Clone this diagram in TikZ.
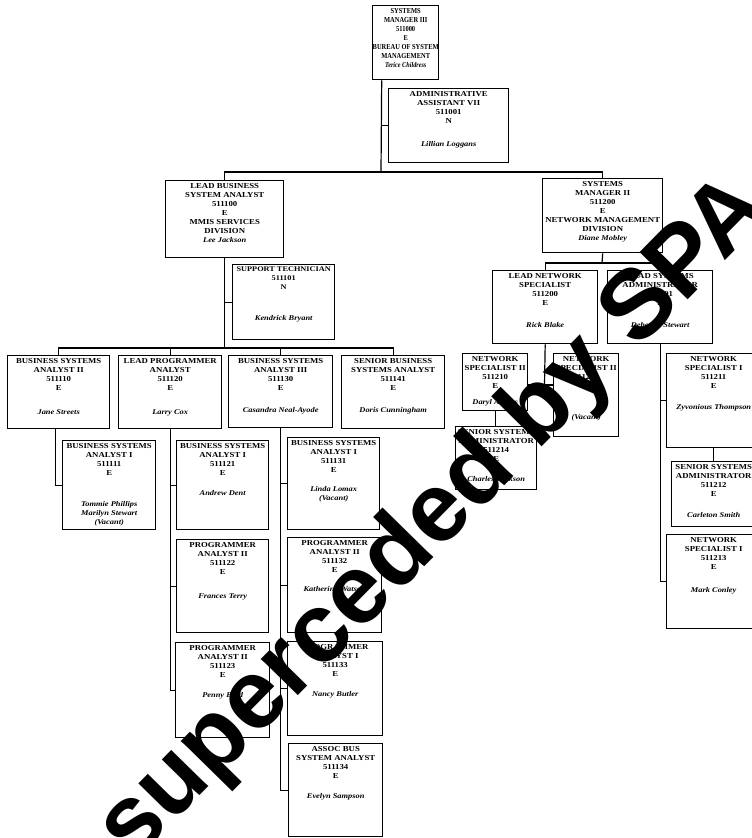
\documentclass[tikz,border=0pt]{standalone}
\usepackage{fontspec}
\setmainfont[FakeStretch=1.15]{Liberation Serif}
\newfontfamily\narrowserif[FakeStretch=0.85]{Liberation Serif}
\newfontfamily\wmsans{Liberation Sans}
\newcommand{\nm}[1]{{\itshape\fontsize{7.3}{9}\selectfont #1}}
\newcommand{\smallline}{\fontsize{7.2}{9}\selectfont}
\tikzset{
  orgnode/.style={draw=black, line width=1.4pt, inner sep=0pt, anchor=north west,
    font=\fontsize{7.6}{9}\selectfont\bfseries},
  conn/.style={draw=black, line width=1.2pt},
  wm/.style={inner sep=0pt, text=black, font=\wmsans\bfseries\fontsize{98}{98}\selectfont}
}
\newcommand{\orgbox}[6]{%
  \pgfmathsetmacro{\obw}{#4-#2}%
  \pgfmathsetmacro{\obh}{#5-#3}%
  \node[orgnode] (#1) at (#2,#3) {\parbox[c][\obh pt][t]{\obw pt}{\centering\vspace*{2.5pt}#6\par}};%
}
\begin{document}
\begin{tikzpicture}[x=1pt,y=-1pt]
\useasboundingbox (0,0) rectangle (752,838);
\fill[white] (0,0) rectangle (752,838);

% ---- boxes ----
\orgbox{top}{372}{5}{438}{79}{\narrowserif SYSTEMS\\ MANAGER III\\ 511000\\ E\\ BUREAU OF SYSTEM\\ MANAGEMENT\\ \nm{Terice Childress}}
\orgbox{admin}{388}{88}{508}{162}{ADMINISTRATIVE\\ ASSISTANT VII\\ 511001\\ N\\[14pt] \nm{Lillian Loggans}}
\orgbox{leadbus}{165}{180}{283}{257}{LEAD BUSINESS\\ SYSTEM ANALYST\\ 511100\\ E\\ MMIS SERVICES\\ DIVISION\\ \nm{Lee Jackson}}
\orgbox{sysmgr}{542}{178}{662}{252}{SYSTEMS\\ MANAGER II\\ 511200\\ E\\ NETWORK MANAGEMENT\\ DIVISION\\ \nm{Diane Mobley}}
\orgbox{support}{232}{264}{334}{339}{\smallline SUPPORT TECHNICIAN\\ 511101\\ N\\[22pt] \nm{Kendrick Bryant}}
\orgbox{bsa2}{7}{355}{109}{428}{BUSINESS SYSTEMS\\ ANALYST II\\ 511110\\ E\\[15pt] \nm{Jane Streets}}
\orgbox{lpa}{118}{355}{221}{428}{LEAD PROGRAMMER\\ ANALYST\\ 511120\\ E\\[15pt] \nm{Larry Cox}}
\orgbox{bsa3}{228}{355}{332}{427}{BUSINESS SYSTEMS\\ ANALYST III\\ 511130\\ E\\[13pt] \nm{Casandra Neal-Ayode}}
\orgbox{senior}{341}{355}{444}{428}{SENIOR BUSINESS\\ SYSTEMS ANALYST\\ 511141\\ E\\[13pt] \nm{Doris Cunningham}}
\orgbox{bsa1a}{62}{440}{155}{529}{BUSINESS SYSTEMS\\ ANALYST I\\ 511111\\ E\\[22pt] \nm{Tommie Phillips}\\ \nm{Marilyn Stewart}\\ \nm{(Vacant)}}
\orgbox{bsa1b}{176}{440}{268}{529}{BUSINESS SYSTEMS\\ ANALYST I\\ 511121\\ E\\[11pt] \nm{Andrew Dent}}
\orgbox{pa2a}{176}{539}{268}{632}{PROGRAMMER\\ ANALYST II\\ 511122\\ E\\[15pt] \nm{Frances Terry}}
\orgbox{pa2b}{175}{642}{269}{737}{PROGRAMMER\\ ANALYST II\\ 511123\\ E\\[11pt] \nm{Penny Byrd}}
\orgbox{bsa1c}{287}{437}{379}{529}{BUSINESS SYSTEMS\\ ANALYST I\\ 511131\\ E\\[10pt] \nm{Linda Lomax}\\ \nm{(Vacant)}}
\orgbox{pa2c}{287}{537}{381}{632}{PROGRAMMER\\ ANALYST II\\ 511132\\ E\\[10pt] \nm{Katherine Watson}}
\orgbox{pa1}{287}{641}{382}{735}{PROGRAMMER\\ ANALYST I\\ 511133\\ E\\[11pt] \nm{Nancy Butler}}
\orgbox{assoc}{288}{743}{382}{836}{ASSOC BUS\\ SYSTEM ANALYST\\ 511134\\ E\\[11pt] \nm{Evelyn Sampson}}
\orgbox{lns}{492}{270}{597}{343}{LEAD NETWORK\\ SPECIALIST\\ 511200\\ E\\[13pt] \nm{Rick Blake}}
\orgbox{lsa}{607}{270}{712}{343}{LEAD SYSTEMS\\ ADMINISTRATOR\\ 511201\\ E\\[13pt] \nm{Deborah Stewart}}
\orgbox{ns2a}{462}{353}{527}{410}{NETWORK\\ SPECIALIST II\\ 511210\\ E\\[7pt] \nm{Daryl Adams}}
\orgbox{ns2b}{553}{353}{618}{436}{NETWORK\\ SPECIALIST II\\ 511220\\ E\\[22pt] \nm{(Vacant)}}
\orgbox{ssa1}{455}{426}{536}{489}{SENIOR SYSTEMS\\ ADMINISTRATOR\\ 511214\\ E\\[11pt] \nm{Charles Jackson}}
\orgbox{ns1a}{666}{353}{760}{447}{NETWORK\\ SPECIALIST I\\ 511211\\ E\\[12pt] \nm{Zyvonious Thompson}}
\orgbox{ssa2}{671}{461}{755}{526}{SENIOR SYSTEMS\\ ADMINISTRATOR\\ 511212\\ E\\[12pt] \nm{Carleton Smith}}
\orgbox{ns1b}{666}{534}{760}{628}{NETWORK\\ SPECIALIST I\\ 511213\\ E\\[14pt] \nm{Mark Conley}}

% ---- connectors ----
\coordinate (hub) at (381,172);
\draw[conn] ([xshift=-24pt]top.south) -- (hub);
\draw[conn] (hub |- admin.west) -- (admin.west);
\draw[conn] (leadbus.north) -- (leadbus.north |- hub) -- (sysmgr.north |- hub) -- (sysmgr.north);

\coordinate (bus2) at (224,348);
\draw[conn] (leadbus.south) -- (leadbus.south |- bus2);
\draw[conn] (leadbus.south |- support.west) -- (support.west);
\draw[conn] (bsa2.north) -- (bsa2.north |- bus2) -- (senior.north |- bus2) -- (senior.north);
\draw[conn] (lpa.north) -- (lpa.north |- bus2);
\draw[conn] (bsa3.north) -- (bsa3.north |- bus2);

\coordinate (t2) at ([xshift=-3pt]bsa2.south);
\draw[conn] (t2) |- (bsa1a.west);

\draw[conn] (lpa.south) |- (pa2b.west);
\draw[conn] (lpa.south |- bsa1b.west) -- (bsa1b.west);
\draw[conn] (lpa.south |- pa2a.west) -- (pa2a.west);

\draw[conn] (bsa3.south) |- (assoc.west);
\draw[conn] (bsa3.south |- bsa1c.west) -- (bsa1c.west);
\draw[conn] (bsa3.south |- pa2c.west) -- (pa2c.west);
\draw[conn] (bsa3.south |- pa1.west) -- (pa1.west);

\coordinate (bus3) at (602,263);
\draw[conn] (sysmgr.south) -- (bus3);
\draw[conn] (lns.north) -- (lns.north |- bus3) -- (lsa.north |- bus3) -- (lsa.north);
\coordinate (j2) at (544.5,385);
\draw[conn] (lns.south) -- (j2);
\draw[conn] (ns2a.east |- j2) -- (ns2b.west |- j2);
\draw[conn] (ns2a.south) -- (ns2a.south |- ssa1.north);
\draw[conn] (lsa.south) |- (ns1b.west);
\draw[conn] (lsa.south |- ns1a.west) -- (ns1a.west);
\draw[conn] (ns1a.south) -- (ssa2.north);

% ---- watermark ----
\begin{scope}
\clip (0,0) rectangle (752,838);
\node[wm, rotate=45.5, anchor=base west] (wmark) at (76,922) {e superceded by SPA};
\end{scope}
\end{tikzpicture}
\end{document}
